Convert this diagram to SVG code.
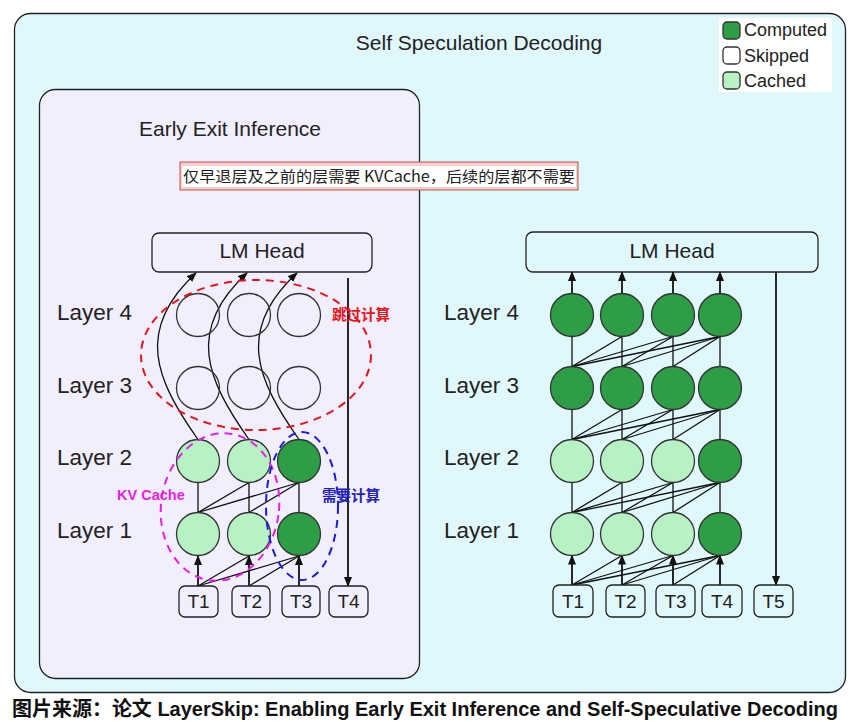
<svg xmlns="http://www.w3.org/2000/svg" width="854" height="722" viewBox="0 0 854 722">
<defs>
<marker id="arr" markerUnits="userSpaceOnUse" markerWidth="10" markerHeight="10" refX="9" refY="4" orient="auto">
<path d="M0,0 L10,4 L0,8 z" fill="#111"/>
</marker>
<style>
.t{font-family:"Liberation Sans",Arial,"Noto Sans CJK SC",sans-serif;fill:#222;}
.big{font-size:21px;}
.lay{font-size:22.5px;}
.tok{font-size:19px;text-anchor:middle;}
.leg{font-size:18px;}
.node{stroke:#333;stroke-width:1.3;}
.comp{fill:#2e9e46;}
.cach{fill:#b6f2c4;}
.skip{fill:none;}
.box{stroke:#222;stroke-width:1.3;}
.ln{stroke:#111;stroke-width:1.3;fill:none;}
.ar{stroke:#111;stroke-width:1.8;fill:none;marker-end:url(#arr);}
.cv{stroke:#111;stroke-width:1.3;fill:none;marker-end:url(#arr);}
.cjk{font-family:"Noto Sans CJK SC","Liberation Sans",sans-serif;}
</style>
</defs>

<g id="outer-panel">
<rect x="14.5" y="13.5" width="831" height="679" rx="16" fill="#e0f8fb" stroke="#222" stroke-width="1.3"/>
<text class="t big" x="479" y="50" text-anchor="middle">Self Speculation Decoding</text>
</g>

<g id="legend">
<rect x="719" y="18" width="113" height="74" fill="#ffffff"/>
<rect x="723" y="22" width="17" height="17" rx="4" class="node comp"/>
<rect x="723" y="47" width="17" height="17" rx="4" fill="#fff" class="node"/>
<rect x="723" y="72" width="17" height="17" rx="4" class="node cach"/>
<text class="t leg" x="744" y="36">Computed</text>
<text class="t leg" x="744" y="62">Skipped</text>
<text class="t leg" x="744" y="87">Cached</text>
</g>

<g id="left-panel">
<rect x="39.5" y="89.5" width="380" height="589" rx="16" fill="#f1effd" stroke="#222" stroke-width="1.3"/>
<text class="t big" x="230" y="136" text-anchor="middle">Early Exit Inference</text>
</g>

<g id="note">
<rect x="180" y="162" width="398" height="28" fill="#f8cecc" stroke="#c0504d" stroke-width="1"/>
<rect x="182" y="166" width="394" height="21" fill="#ffffff"/>
<text class="t cjk" x="379" y="182" font-size="15.3" text-anchor="middle" textLength="392" lengthAdjust="spacingAndGlyphs">仅早退层及之前的层需要 KVCache，后续的层都不需要</text>
</g>

<g id="left-lmhead">
<rect x="152" y="233" width="220" height="39" rx="7" fill="#f1effd" class="box"/>
<text class="t big" x="262" y="258" text-anchor="middle">LM Head</text>
</g>

<g id="right-lmhead">
<rect x="526" y="232" width="292" height="40" rx="7" fill="#e0f8fb" class="box"/>
<text class="t big" x="672" y="258" text-anchor="middle">LM Head</text>
</g>

<g id="left-layer-labels">
<text class="t lay" x="57" y="320">Layer 4</text>
<text class="t lay" x="57" y="393">Layer 3</text>
<text class="t lay" x="57" y="465">Layer 2</text>
<text class="t lay" x="57" y="538">Layer 1</text>
</g>
<g id="right-layer-labels">
<text class="t lay" x="444" y="320">Layer 4</text>
<text class="t lay" x="444" y="393">Layer 3</text>
<text class="t lay" x="444" y="465">Layer 2</text>
<text class="t lay" x="444" y="538">Layer 1</text>
</g>

<g id="connectors">
<line class="ar" x1="198" y1="586" x2="198" y2="556"/>
<line class="ar" x1="249" y1="586" x2="249" y2="556"/>
<line class="ar" x1="299" y1="586" x2="299" y2="556"/>
<line class="ln" x1="198" y1="586" x2="249" y2="556"/>
<line class="ln" x1="198" y1="586" x2="299" y2="556"/>
<line class="ln" x1="249" y1="586" x2="299" y2="556"/>
<line class="ln" x1="198" y1="512.5" x2="198" y2="482.5"/>
<line class="ln" x1="249" y1="512.5" x2="249" y2="482.5"/>
<line class="ln" x1="299" y1="512.5" x2="299" y2="482.5"/>
<line class="ln" x1="198" y1="512.5" x2="249" y2="482.5"/>
<line class="ln" x1="198" y1="512.5" x2="299" y2="482.5"/>
<line class="ln" x1="249" y1="512.5" x2="299" y2="482.5"/>
<path class="cv" d="M198,439.5 C156,380 134,330 196,273"/>
<path class="cv" d="M249,439.5 C207,380 185,330 247,273"/>
<path class="cv" d="M299,439.5 C257,380 235,330 297,273"/>
<line class="ar" x1="348" y1="278" x2="348" y2="586"/>

<line class="ar" x1="572" y1="585" x2="572" y2="555.5"/>
<line class="ar" x1="622" y1="585" x2="622" y2="555.5"/>
<line class="ar" x1="673" y1="585" x2="673" y2="555.5"/>
<line class="ar" x1="720" y1="585" x2="720" y2="555.5"/>
<line class="ln" x1="572" y1="585" x2="622" y2="555.5"/>
<line class="ln" x1="572" y1="585" x2="673" y2="555.5"/>
<line class="ln" x1="572" y1="585" x2="720" y2="555.5"/>
<line class="ln" x1="622" y1="585" x2="673" y2="555.5"/>
<line class="ln" x1="622" y1="585" x2="720" y2="555.5"/>
<line class="ln" x1="673" y1="585" x2="720" y2="555.5"/>
<line class="ln" x1="572" y1="512.5" x2="572" y2="482.5"/>
<line class="ln" x1="622" y1="512.5" x2="622" y2="482.5"/>
<line class="ln" x1="673" y1="512.5" x2="673" y2="482.5"/>
<line class="ln" x1="720" y1="512.5" x2="720" y2="482.5"/>
<line class="ln" x1="572" y1="512.5" x2="622" y2="482.5"/>
<line class="ln" x1="572" y1="512.5" x2="673" y2="482.5"/>
<line class="ln" x1="572" y1="512.5" x2="720" y2="482.5"/>
<line class="ln" x1="622" y1="512.5" x2="673" y2="482.5"/>
<line class="ln" x1="622" y1="512.5" x2="720" y2="482.5"/>
<line class="ln" x1="673" y1="512.5" x2="720" y2="482.5"/>
<line class="ln" x1="572" y1="439.5" x2="572" y2="409.5"/>
<line class="ln" x1="622" y1="439.5" x2="622" y2="409.5"/>
<line class="ln" x1="673" y1="439.5" x2="673" y2="409.5"/>
<line class="ln" x1="720" y1="439.5" x2="720" y2="409.5"/>
<line class="ln" x1="572" y1="439.5" x2="622" y2="409.5"/>
<line class="ln" x1="572" y1="439.5" x2="673" y2="409.5"/>
<line class="ln" x1="572" y1="439.5" x2="720" y2="409.5"/>
<line class="ln" x1="622" y1="439.5" x2="673" y2="409.5"/>
<line class="ln" x1="622" y1="439.5" x2="720" y2="409.5"/>
<line class="ln" x1="673" y1="439.5" x2="720" y2="409.5"/>
<line class="ln" x1="572" y1="366.5" x2="572" y2="336.5"/>
<line class="ln" x1="622" y1="366.5" x2="622" y2="336.5"/>
<line class="ln" x1="673" y1="366.5" x2="673" y2="336.5"/>
<line class="ln" x1="720" y1="366.5" x2="720" y2="336.5"/>
<line class="ln" x1="572" y1="366.5" x2="622" y2="336.5"/>
<line class="ln" x1="572" y1="366.5" x2="673" y2="336.5"/>
<line class="ln" x1="572" y1="366.5" x2="720" y2="336.5"/>
<line class="ln" x1="622" y1="366.5" x2="673" y2="336.5"/>
<line class="ln" x1="622" y1="366.5" x2="720" y2="336.5"/>
<line class="ln" x1="673" y1="366.5" x2="720" y2="336.5"/>
<line class="ar" x1="572" y1="293.5" x2="572" y2="272"/>
<line class="ar" x1="622" y1="293.5" x2="622" y2="272"/>
<line class="ar" x1="673" y1="293.5" x2="673" y2="272"/>
<line class="ar" x1="720" y1="293.5" x2="720" y2="272"/>
<line class="ar" x1="776" y1="272" x2="776" y2="585"/>
</g>

<g id="left-nodes">
<circle class="node skip" cx="198" cy="315" r="21.5"/>
<circle class="node skip" cx="249" cy="315" r="21.5"/>
<circle class="node skip" cx="299" cy="315" r="21.5"/>
<circle class="node skip" cx="198" cy="388" r="21.5"/>
<circle class="node skip" cx="249" cy="388" r="21.5"/>
<circle class="node skip" cx="299" cy="388" r="21.5"/>
<circle class="node cach" cx="198" cy="461" r="21.5"/>
<circle class="node cach" cx="249" cy="461" r="21.5"/>
<circle class="node comp" cx="299" cy="461" r="21.5"/>
<circle class="node cach" cx="198" cy="534" r="21.5"/>
<circle class="node cach" cx="249" cy="534" r="21.5"/>
<circle class="node comp" cx="299" cy="534" r="21.5"/>
</g>

<g id="right-nodes">
<circle class="node comp" cx="572" cy="315" r="21.5"/>
<circle class="node comp" cx="622" cy="315" r="21.5"/>
<circle class="node comp" cx="673" cy="315" r="21.5"/>
<circle class="node comp" cx="720" cy="315" r="21.5"/>
<circle class="node comp" cx="572" cy="388" r="21.5"/>
<circle class="node comp" cx="622" cy="388" r="21.5"/>
<circle class="node comp" cx="673" cy="388" r="21.5"/>
<circle class="node comp" cx="720" cy="388" r="21.5"/>
<circle class="node cach" cx="572" cy="461" r="21.5"/>
<circle class="node cach" cx="622" cy="461" r="21.5"/>
<circle class="node cach" cx="673" cy="461" r="21.5"/>
<circle class="node comp" cx="720" cy="461" r="21.5"/>
<circle class="node cach" cx="572" cy="534" r="21.5"/>
<circle class="node cach" cx="622" cy="534" r="21.5"/>
<circle class="node cach" cx="673" cy="534" r="21.5"/>
<circle class="node comp" cx="720" cy="534" r="21.5"/>
</g>

<g id="left-tokens">
<rect x="179" y="586" width="39" height="31" rx="6" fill="#f1effd" class="box"/>
<rect x="232" y="586" width="38" height="31" rx="6" fill="#f1effd" class="box"/>
<rect x="282" y="586" width="38" height="31" rx="6" fill="#f1effd" class="box"/>
<rect x="329" y="586" width="39" height="31" rx="6" fill="#f1effd" class="box"/>
<text class="t tok" x="198.5" y="608">T1</text>
<text class="t tok" x="251" y="608">T2</text>
<text class="t tok" x="301" y="608">T3</text>
<text class="t tok" x="348.5" y="608">T4</text>
</g>

<g id="right-tokens">
<rect x="553" y="585" width="40" height="32" rx="6" fill="#e0f8fb" class="box"/>
<rect x="606" y="585" width="39" height="32" rx="6" fill="#e0f8fb" class="box"/>
<rect x="656" y="585" width="39" height="32" rx="6" fill="#e0f8fb" class="box"/>
<rect x="702" y="585" width="40" height="32" rx="6" fill="#e0f8fb" class="box"/>
<rect x="754" y="585" width="39" height="32" rx="6" fill="#e0f8fb" class="box"/>
<text class="t tok" x="573" y="608">T1</text>
<text class="t tok" x="625.5" y="608">T2</text>
<text class="t tok" x="675.5" y="608">T3</text>
<text class="t tok" x="722" y="608">T4</text>
<text class="t tok" x="773.5" y="608">T5</text>
</g>

<g id="skip-region">
<ellipse cx="256" cy="355" rx="115" ry="75" fill="none" stroke="#e8141c" stroke-width="2" stroke-dasharray="8 6"/>
<text class="cjk" x="332" y="320" font-size="14.5" font-weight="bold" fill="#e8141c">跳过计算</text>
</g>

<g id="kv-cache-region">
<ellipse cx="220" cy="507" rx="59" ry="74" transform="rotate(8 220 507)" fill="none" stroke="#e81ee8" stroke-width="2" stroke-dasharray="8 6"/>
<text x="117" y="500" font-family="Liberation Sans, Arial, sans-serif" font-size="14.5" font-weight="bold" fill="#e81ee8">KV Cache</text>
</g>

<g id="compute-region">
<ellipse cx="302" cy="506" rx="36" ry="74" fill="none" stroke="#1a1ae0" stroke-width="2" stroke-dasharray="8 6"/>
<text class="cjk" x="322" y="501" font-size="14.5" font-weight="bold" fill="#2222b8">需要计算</text>
</g>

<g id="caption">
<text x="12" y="716" font-family="Liberation Sans Narrow, Liberation Sans, Noto Sans CJK SC, sans-serif" font-size="20" font-weight="bold" fill="#111" textLength="826" lengthAdjust="spacingAndGlyphs"><tspan font-family="Noto Sans CJK SC, sans-serif">图片来源：论文</tspan> LayerSkip: Enabling Early Exit Inference and Self-Speculative Decoding</text>
</g>
</svg>
